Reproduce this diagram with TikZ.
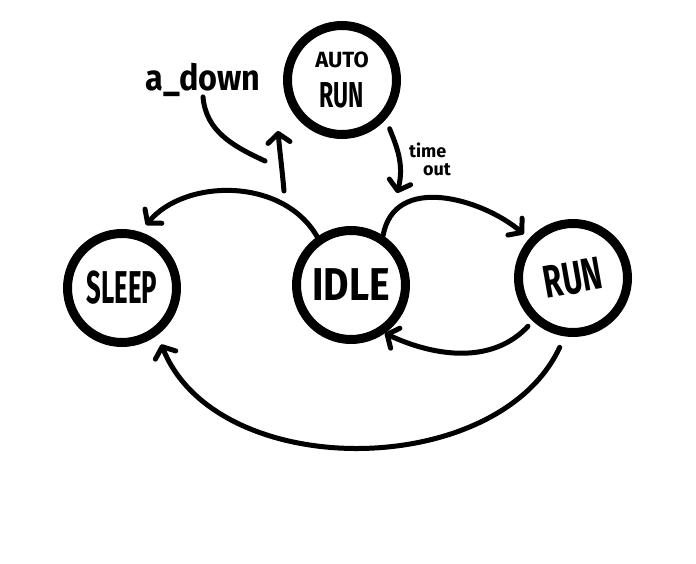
\documentclass[tikz,border=0pt]{standalone}
\usepackage{fontspec}
\setmainfont{Fira Sans}
\usetikzlibrary{arrows.meta, positioning}
\newcommand{\hsquash}[2]{\scalebox{#1}[1]{#2}}

\begin{document}
\begin{tikzpicture}[
        x=1pt, y=-1pt,
        state/.style={circle, draw, line width=9pt, minimum size=109pt, inner sep=0pt, align=center, font=\fontsize{46}{50}\selectfont\bfseries},
        arrow/.style={-{Straight Barb[length=9pt, width=22pt, round]}, line width=5pt, line cap=round},
        lead/.style={line width=5pt, line cap=round},
        lbl/.style={inner sep=0pt, align=left}
    ]
        \useasboundingbox (0,0) rectangle (696,564);
        \node[state] (idle) at (351,285) {\hsquash{0.85}{IDLE}};
        \node[state, left=111pt of idle, yshift=-3pt] (sleep) {\hsquash{0.56}{SLEEP}};
        \node[state, right=104pt of idle, yshift=7pt] (run) {\rotatebox{10}{\hsquash{0.66}{RUN}}};
        \node[state, above=87pt of idle, xshift=-9pt, font=\fontsize{36}{40}\selectfont\bfseries] (auto) {{\fontsize{22}{40}\selectfont AUTO}\\\hsquash{0.64}{RUN}};
        \node[lbl, font=\fontsize{36}{40}\selectfont\bfseries] (adown) at (203,80) {\hsquash{0.9}{a\_down}};
        \node[lbl, font=\fontsize{18}{18}\selectfont\bfseries] (timeout) at (430,159) {time\\\hspace*{14pt}out};
        \coordinate (fork) at (284,191);
        \coordinate (autoin) at (278,131);
        \coordinate (leadend) at (265,161);
        \coordinate (idlein) at (397,193);
        \draw[arrow] (fork) to[out=95, in=-85] (autoin);
        \draw[lead] (adown.south) to[out=-85, in=155] (leadend);
        \draw[arrow, shorten <=10pt] (auto.-42) to[out=-68, in=75] (idlein);
        \draw[arrow, shorten >=9pt] (idle.125) to[out=120, in=50] (sleep.72);
        \draw[arrow, shorten >=7pt] (idle.57) to[out=80, in=140, looseness=1.1] (run.138);
        \draw[arrow, shorten <=7pt] (run.227) to[out=-133, in=-25] (idle.-55);
        \draw[arrow, shorten <=12pt, shorten >=10pt] (run.-98) to[out=-115, in=-68] (sleep.-53);
\end{tikzpicture}
\end{document}
